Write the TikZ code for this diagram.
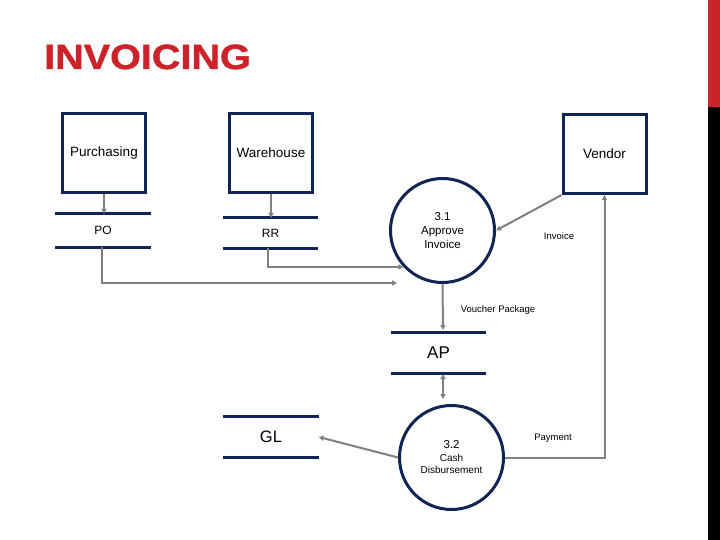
\documentclass[tikz,border=0pt]{standalone}
\usepackage{fontspec}
\setmainfont{Liberation Sans}
\newfontfamily\titlefont[FakeStretch=1.13,FakeBold=1.2]{Liberation Sans Bold}
\usetikzlibrary{arrows.meta}
\definecolor{navy}{RGB}{16,37,84}
\definecolor{flowgray}{RGB}{128,128,128}
\definecolor{titlered}{RGB}{204,34,41}
\tikzset{
  entity/.style={draw=navy,line width=3pt,minimum width=83pt,minimum height=79pt,
    font=\fontsize{13.5}{16}\selectfont},
  store/.style={inner sep=0pt,minimum width=95pt},
  storeline/.style={navy,line width=3pt},
  process/.style={circle,draw=navy,line width=3pt,minimum size=104pt,inner sep=0pt,align=center},
  flow/.style={flowgray,line width=2pt,-{Triangle[length=5pt,width=5pt]}},
  flowlabel/.style={font=\fontsize{9.5}{11}\selectfont}
}
\begin{document}
\begin{tikzpicture}[x=1pt,y=-1pt]
  \useasboundingbox (0,0) rectangle (720,540);
  \fill[white] (0,0) rectangle (720,540);
  \fill[titlered] (708,0) rectangle (720,107);
  \fill[black] (708,107) rectangle (720,540);
  \node[anchor=base west,text=titlered,font=\fontsize{35}{36}\titlefont,inner sep=0pt]
    (title) at (44,69) {INVOICING};

  \node[entity] (pur) at (104,153) {Purchasing};
  \node[entity] (wh) at (271,153) {Warehouse};
  \node[entity] (ven) at (604.5,154) {Vendor};

  \node[store,minimum height=33pt,font=\fontsize{12}{14}\selectfont] (po) at (103,230.5) {PO};
  \node[store,minimum height=30pt,font=\fontsize{12}{14}\selectfont] (rr) at (270.5,233) {RR};
  \node[store,minimum height=40pt,font=\fontsize{17}{19}\selectfont] (ap) at (438.5,353) {AP};
  \node[store,minimum height=40pt,font=\fontsize{16.5}{19}\selectfont] (gl) at (271,437) {GL};
  \foreach \s in {po,rr,ap,gl}
    \draw[storeline] (\s.north west) -- (\s.north east) (\s.south west) -- (\s.south east);

  \node[process,font=\fontsize{11.5}{14}\selectfont] (p31) at (442.5,230.5) {3.1\\Approve\\Invoice};
  \node[process,font=\fontsize{10}{12.5}\selectfont] (p32) at (451.5,457.5)
    {{\fontsize{11.5}{12.5}\selectfont 3.2}\\Cash\\Disbursement};

  \coordinate (poend) at (397,283);
  \coordinate (apin) at (443,330);
  \coordinate (apout) at (443,374);
  \coordinate (p32in) at (443,399);

  \draw[flow] (pur.south) -- (pur.south |- po.north);
  \draw[flow] (wh.south) -- (wh.south |- rr.north);
  \draw[flow] ([xshift=-3pt]rr.south) |- (p31.223);
  \draw[flow] ([xshift=-1pt]po.south) |- (poend);
  \draw[flow] (ven.south west) -- (p31.east);
  \draw[flow] (p31.south) -- (apin);
  \draw[flow,{Triangle[length=5pt,width=5pt]}-{Triangle[length=5pt,width=5pt]}] (apout) -- (p32in);
  \draw[flow] (p32.west) -- (gl.east);
  \draw[flow] (p32.east) -| (ven.south);

  \node[flowlabel] (linv) at (559,236) {Invoice};
  \node[flowlabel] (lvou) at (498,310) {Voucher Package};
  \node[flowlabel] (lpay) at (553,438) {Payment};
\end{tikzpicture}
\end{document}
